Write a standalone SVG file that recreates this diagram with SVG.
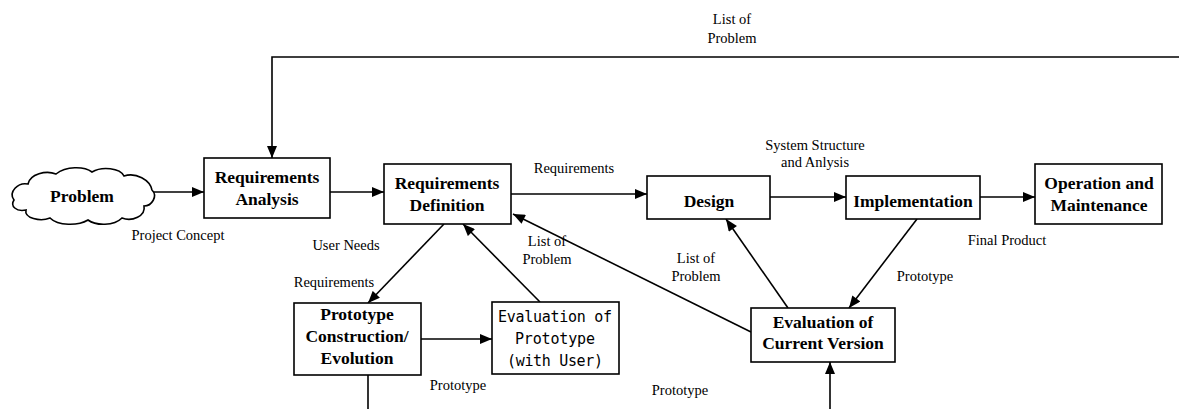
<svg xmlns="http://www.w3.org/2000/svg" width="1179" height="409" viewBox="0 0 1179 409">
  <style>
    .box { fill: #fff; stroke: #000; stroke-width: 1.6; }
    .title { font-family: "Liberation Serif", "Times New Roman", serif; font-weight: bold; font-size: 17.5px; text-anchor: middle; fill: #000; }
    .mono { font-family: "DejaVu Sans Mono", "Liberation Mono", monospace; font-size: 15px; text-anchor: middle; fill: #000; }
    .label { font-family: "Liberation Serif", "Times New Roman", serif; font-size: 14.5px; text-anchor: middle; fill: #000; }
    .link { fill: none; stroke: #000; stroke-width: 1.6; }
  </style>
  <defs>
    <marker id="arrow" viewBox="0 0 12 10" refX="12" refY="5" markerWidth="13" markerHeight="10" markerUnits="userSpaceOnUse" orient="auto">
      <path d="M0,0 L12,5 L0,10 Z" fill="#000"/>
    </marker>
  </defs>
  <rect width="1179" height="409" fill="#fff"/>

  <!-- connectors -->
  <g id="connectors">
    <polyline class="link" points="1179,57 272,57 272,158" marker-end="url(#arrow)"/>
    <line class="link" x1="153" y1="192" x2="204" y2="192" marker-end="url(#arrow)"/>
    <line class="link" x1="330" y1="192" x2="384" y2="192" marker-end="url(#arrow)"/>
    <line class="link" x1="511" y1="194" x2="647" y2="194" marker-end="url(#arrow)"/>
    <line class="link" x1="770" y1="197" x2="846" y2="197" marker-end="url(#arrow)"/>
    <line class="link" x1="980" y1="197" x2="1035" y2="197" marker-end="url(#arrow)"/>
    <line class="link" x1="444" y1="224" x2="368" y2="303" marker-end="url(#arrow)"/>
    <line class="link" x1="540" y1="302" x2="463" y2="224" marker-end="url(#arrow)"/>
    <line class="link" x1="751" y1="332" x2="513" y2="214" marker-end="url(#arrow)"/>
    <line class="link" x1="788" y1="308" x2="726" y2="219" marker-end="url(#arrow)"/>
    <line class="link" x1="917" y1="219" x2="849" y2="308" marker-end="url(#arrow)"/>
    <line class="link" x1="421" y1="339" x2="492" y2="339" marker-end="url(#arrow)"/>
    <line class="link" x1="368" y1="375" x2="368" y2="409"/>
    <line class="link" x1="830" y1="409" x2="830" y2="362" marker-end="url(#arrow)"/>
  </g>

  <!-- connector labels -->
  <g id="labels">
    <text class="label" x="732" y="24">List of</text>
    <text class="label" x="732" y="43">Problem</text>
    <text class="label" x="178" y="240">Project Concept</text>
    <text class="label" x="574" y="173">Requirements</text>
    <text class="label" x="815" y="150">System Structure</text>
    <text class="label" x="815" y="167">and Anlysis</text>
    <text class="label" x="1007" y="245">Final Product</text>
    <text class="label" x="346" y="250">User Needs</text>
    <text class="label" x="334" y="287">Requirements</text>
    <text class="label" x="547" y="246">List of</text>
    <text class="label" x="547" y="264">Problem</text>
    <text class="label" x="696" y="263">List of</text>
    <text class="label" x="696" y="281">Problem</text>
    <text class="label" x="925" y="281">Prototype</text>
    <text class="label" x="458" y="390">Prototype</text>
    <text class="label" x="680" y="395">Prototype</text>
  </g>

  <!-- nodes -->
  <g id="problem">
    <path class="box" d="M14,200 C8,192 18,182 28,184 C30,174 46,170 56,174 C66,166 84,166 92,172 C102,166 120,168 124,176 C136,172 150,180 152,190 C158,196 152,206 144,206 C146,216 132,222 122,218 C114,226 96,226 88,220 C78,226 58,226 50,218 C40,222 24,218 26,210 C16,212 10,206 14,200 Z"/>
    <text class="title" x="82" y="202">Problem</text>
  </g>
  <g id="requirements-analysis">
    <rect class="box" x="204" y="158" width="126" height="60"/>
    <text class="title" x="267" y="183">Requirements</text>
    <text class="title" x="267" y="205">Analysis</text>
  </g>
  <g id="requirements-definition">
    <rect class="box" x="384" y="164" width="127" height="60"/>
    <text class="title" x="447" y="189">Requirements</text>
    <text class="title" x="447" y="211">Definition</text>
  </g>
  <g id="design">
    <rect class="box" x="647" y="176" width="123" height="43"/>
    <text class="title" x="709" y="207">Design</text>
  </g>
  <g id="implementation">
    <rect class="box" x="846" y="176" width="134" height="43"/>
    <text class="title" x="913" y="207">Implementation</text>
  </g>
  <g id="operation-maintenance">
    <rect class="box" x="1035" y="164" width="127" height="60"/>
    <text class="title" x="1099" y="189">Operation and</text>
    <text class="title" x="1099" y="211">Maintenance</text>
  </g>
  <g id="prototype-construction">
    <rect class="box" x="294" y="303" width="127" height="72"/>
    <text class="title" x="357" y="320">Prototype</text>
    <text class="title" x="357" y="342">Construction/</text>
    <text class="title" x="357" y="364">Evolution</text>
  </g>
  <g id="evaluation-prototype">
    <rect class="box" x="492" y="302" width="127" height="72"/>
    <text class="mono" x="555" y="322" textLength="114">Evaluation of</text>
    <text class="mono" x="555" y="344" textLength="80">Prototype</text>
    <text class="mono" x="555" y="366" textLength="96">(with User)</text>
  </g>
  <g id="evaluation-current">
    <rect class="box" x="751" y="308" width="144" height="54"/>
    <text class="title" x="823" y="328">Evaluation of</text>
    <text class="title" x="823" y="349">Current Version</text>
  </g>
</svg>
